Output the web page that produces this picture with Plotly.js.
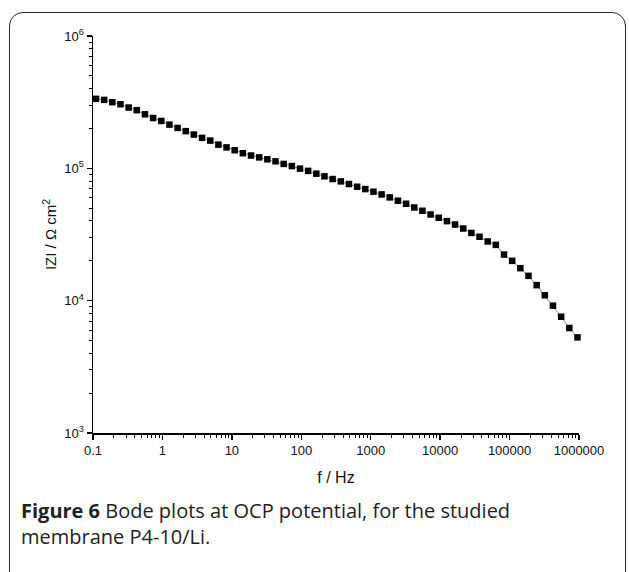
<!DOCTYPE html>
<html>
<head>
<meta charset="utf-8">
<script src="https://cdn.plot.ly/plotly-3.0.1.min.js"></script>
<style>
  html, body { margin: 0; padding: 0; background: #fff; overflow: hidden; }
  #wrap { position: relative; width: 629px; height: 572px; }
  #chart { position: absolute; left: 0; top: 0; width: 629px; height: 572px; }
  #frame {
    position: absolute; left: 9px; top: 12px; width: 615px; height: 620px;
    border: 1.6px solid #2a2a2a; border-radius: 14px; pointer-events: none;
  }
</style>
</head>
<body>
<div id="wrap">
  <div id="chart"></div>
  <div id="frame"></div>
</div>
<script>
// Impedance modulus |Z| against frequency (Bode plot, OCP), membrane P4-10/Li
const frequencyHz = [
  0.1104, 0.1447, 0.1897, 0.2487, 0.3260, 0.4273, 0.5601, 0.7340, 0.9623, 1.261,
  1.653, 2.167, 2.841, 3.724, 4.882, 6.399, 8.387, 10.99, 14.41, 18.89,
  24.77, 32.45, 42.56, 55.78, 73.11, 95.83, 125.6, 164.7, 215.8, 282.9,
  370.9, 486.1, 637.3, 835.3, 1095, 1435, 1881, 2466, 3232, 4238,
  5554, 7280, 9543, 12510, 16400, 21490, 28170, 36930, 48410, 63450,
  83180, 109000, 142900, 187300, 245600, 321900, 421900, 553200, 725100, 950600
];
const modulusOhmCm2 = [
  335000, 329000, 316000, 305000, 288000, 275000, 256000, 240000, 228000, 214000,
  202000, 191000, 180000, 170000, 162000, 151000, 144000, 137000, 130000, 125000,
  121000, 117000, 113000, 108000, 104000, 99500, 95700, 91100, 87000, 83000,
  79700, 76100, 72600, 69700, 66600, 63500, 60300, 56900, 54000, 50600,
  47800, 44800, 42300, 39900, 37600, 35100, 32500, 30400, 28000, 26400,
  22300, 20000, 17600, 15400, 13100, 10980, 9170, 7560, 6210, 5280
];
const xTickValues = [0.1, 1, 10, 100, 1000, 10000, 100000, 1000000];
const xTickLabels = ['0.1', '1', '10', '100', '1000', '10000', '100000', '1000000'];
const yTickValues = [1000, 10000, 100000, 1000000];
const yTickLabels = ['10<sup>3</sup>', '10<sup>4</sup>', '10<sup>5</sup>', '10<sup>6</sup>'];

const W = 629, H = 572;
const margin = { l: 93, r: 50, t: 36, b: 139 };
const plotW = W - margin.l - margin.r;
const plotH = H - margin.t - margin.b;
// pixel -> paper helpers for the caption placement
const px = x => (x - margin.l) / plotW;
const py = y => (H - margin.b - y) / plotH;

const sans = 'Liberation Sans, Arial, sans-serif';
const axisFont = { family: sans, size: 13, color: '#111' };

const trace = {
  x: frequencyHz,
  y: modulusOhmCm2,
  type: 'scatter',
  mode: 'lines+markers',
  line: { color: '#666', width: 0.8 },
  marker: { symbol: 'square', size: 6.5, color: '#000', line: { width: 0 } },
  cliponaxis: false,
  hoverinfo: 'skip'
};

const commonAxis = {
  type: 'log',
  showgrid: false,
  zeroline: false,
  showline: true,
  linecolor: '#000',
  linewidth: 1.5,
  ticks: 'outside',
  ticklen: 5,
  tickwidth: 1.5,
  tickcolor: '#000',
  tickmode: 'array',
  tickfont: axisFont,
  minor: { ticks: 'outside', ticklen: 3, tickwidth: 1, tickcolor: '#000', dtick: 'D1', showgrid: false }
};

const layout = {
  width: W,
  height: H,
  margin: margin,
  paper_bgcolor: '#fff',
  plot_bgcolor: '#fff',
  showlegend: false,
  xaxis: Object.assign({}, commonAxis, {
    range: [-1, 6],
    tickvals: xTickValues,
    ticktext: xTickLabels,
    title: { text: 'f / Hz', font: { family: sans, size: 16, color: '#111' }, standoff: 14 }
  }),
  yaxis: Object.assign({}, commonAxis, {
    range: [3, 6],
    tickvals: yTickValues,
    ticktext: yTickLabels,
    title: { text: 'IZI / \u03A9 cm<sup>2</sup>', font: { family: sans, size: 15, color: '#111' }, standoff: 4 }
  }),
  annotations: [
    {
      xref: 'paper', yref: 'paper',
      x: px(19), y: py(495),
      xanchor: 'left', yanchor: 'top', align: 'left',
      showarrow: false,
      text: '<b>Figure 6</b> Bode plots at OCP potential, for the studied<br>membrane P4-10/Li.',
      font: { family: 'Open Sans, Noto Sans, sans-serif', size: 20, color: '#222' }
    }
  ]
};

Plotly.newPlot('chart', [trace], layout, { displayModeBar: false, staticPlot: true });
</script>
</body>
</html>
